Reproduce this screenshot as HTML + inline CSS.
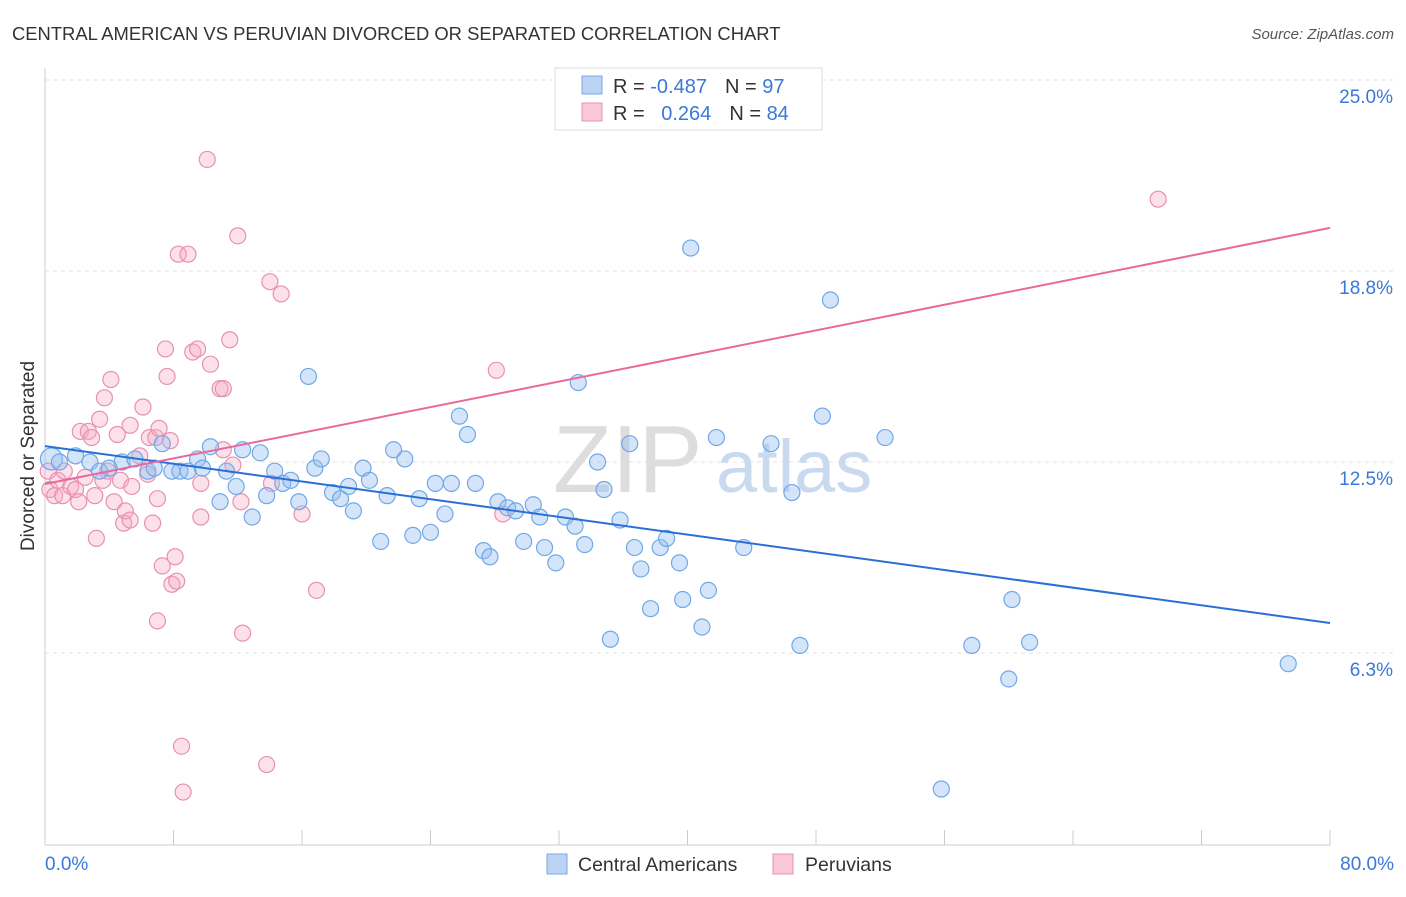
<!DOCTYPE html>
<html><head><meta charset="utf-8">
<style>
body{margin:0;background:#fff;font-family:"Liberation Sans",sans-serif;}
svg text{font-family:"Liberation Sans",sans-serif;}
</style></head>
<body>
<svg id="chart" width="1406" height="892" viewBox="0 0 1406 892" xmlns="http://www.w3.org/2000/svg">
<text x="12" y="40" font-size="18.4" fill="#333">CENTRAL AMERICAN VS PERUVIAN DIVORCED OR SEPARATED CORRELATION CHART</text>
<text x="1394" y="39" font-size="15" fill="#555" font-style="italic" text-anchor="end">Source: ZipAtlas.com</text>
<text x="34" y="456" font-size="19" fill="#333" text-anchor="middle" transform="rotate(-90 34 456)">Divorced or Separated</text>
<g id="grid"></g>
<g>
<text x="553" y="492" font-size="96" fill="#ddd" font-family="Liberation Serif">ZIP</text>
<text x="716" y="492" font-size="74" fill="#c9d9f0">atlas</text>
</g>
<line x1="45" y1="68" x2="45" y2="845" stroke="#ccc"/>
<line x1="45" y1="845" x2="1330" y2="845" stroke="#ccc"/>
<g id="xticks"></g>
<g id="yticks"></g>
<g id="pinkpts"></g>
<g id="bluepts"></g>
<g id="lines"></g>
<text x="45" y="870" font-size="19" fill="#3a78d8">0.0%</text>
<text x="1394" y="870" font-size="19" fill="#3a78d8" text-anchor="end">80.0%</text>
<g>
<rect x="555" y="68" width="267" height="62" fill="#fff" stroke="#ddd"/>
<rect x="582" y="76" width="20" height="18" fill="#bcd4f4" stroke="#7aa8e8"/>
<rect x="582" y="103" width="20" height="18" fill="#f8c8d8" stroke="#e890b0"/>
<text x="613" y="93" font-size="20" fill="#333">R = <tspan fill="#3a78d8">-0.487</tspan><tspan dx="18">N = </tspan><tspan fill="#3a78d8">97</tspan></text>
<text x="613" y="120" font-size="20" fill="#333">R = <tspan fill="#3a78d8" dx="11">0.264</tspan><tspan dx="18">N = </tspan><tspan fill="#3a78d8">84</tspan></text>
</g>
<g>
<rect x="547" y="854" width="20" height="20" fill="#bcd4f4" stroke="#7aa8e8"/>
<text x="578" y="871" font-size="19.5" fill="#333">Central Americans</text>
<rect x="773" y="854" width="20" height="20" fill="#f8c8d8" stroke="#e890b0"/>
<text x="805" y="871" font-size="19.5" fill="#333">Peruvians</text>
</g>
</svg>
<script>
const yTicks=[6.3,12.5,18.8,25.0];
const yTickValues=[6.25,12.5,18.75,25];
const xTickValues=[0,8,16,24,32,40,48,56,64,72,80];
const blueX=[0.4,0.9,1.9,2.8,3.4,4.0,4.8,5.6,6.4,6.8,7.3,7.9,8.4,8.9,9.5,9.8,10.3,10.9,11.3,11.9,12.3,12.9,13.4,13.8,14.3,14.8,15.3,15.8,16.4,16.8,17.2,17.9,18.4,18.9,19.2,19.8,20.2,20.9,21.3,21.7,22.4,22.9,23.3,24.0,24.3,24.9,25.3,25.8,26.3,26.8,27.3,27.7,28.2,28.8,29.3,29.8,30.4,30.8,31.1,31.8,32.4,33.0,33.2,33.6,34.4,34.8,35.2,35.8,36.4,36.7,37.1,37.7,38.3,38.7,39.5,39.7,40.2,40.9,41.3,41.8,43.5,45.2,46.5,47.0,48.4,48.9,52.3,55.8,57.7,60.0,60.2,61.3,77.4];
const blueY=[12.6,12.5,12.7,12.5,12.2,12.3,12.5,12.6,12.2,12.3,13.1,12.2,12.2,12.2,12.6,12.3,13.0,11.2,12.2,11.7,12.9,10.7,12.8,11.4,12.2,11.8,11.9,11.2,15.3,12.3,12.6,11.5,11.3,11.7,10.9,12.3,11.9,9.9,11.4,12.9,12.6,10.1,11.3,10.2,11.8,10.8,11.8,14.0,13.4,11.8,9.6,9.4,11.2,11.0,10.9,9.9,11.1,10.7,9.7,9.2,10.7,10.4,15.1,9.8,12.5,11.6,6.7,10.6,13.1,9.7,9.0,7.7,9.7,10.0,9.2,8.0,19.5,7.1,8.3,13.3,9.7,13.1,11.5,6.5,14.0,17.8,13.3,1.8,6.5,5.4,8.0,6.6,5.9];
const pinkX=[0.2,0.3,0.6,0.8,1.1,1.2,1.6,1.9,2.1,2.2,2.5,2.7,2.9,3.1,3.2,3.4,3.6,3.7,3.9,4.1,4.3,4.5,4.7,4.9,5.0,5.3,5.3,5.4,5.9,6.1,6.4,6.5,6.7,6.9,7.0,7.0,7.1,7.3,7.5,7.6,7.8,7.9,8.1,8.2,8.3,8.5,8.6,8.9,9.2,9.5,9.7,9.7,10.1,10.3,10.9,11.1,11.1,11.5,11.7,12.0,12.2,12.3,13.8,14.0,14.1,14.7,16.0,16.9,28.1,28.5,69.3];
const pinkY=[12.2,11.6,11.4,11.9,11.4,12.2,11.7,11.6,11.2,13.5,12.0,13.5,13.3,11.4,10.0,13.9,11.9,14.6,12.2,15.2,11.2,13.4,11.9,10.5,10.9,13.7,10.6,11.7,12.7,14.3,12.1,13.3,10.5,13.3,11.3,7.3,13.6,9.1,16.2,15.3,13.2,8.5,9.4,8.6,19.3,3.2,1.7,19.3,16.1,16.2,11.8,10.7,22.4,15.7,14.9,14.9,12.9,16.5,12.4,19.9,11.2,6.9,2.6,18.4,11.8,18.0,10.8,8.3,15.5,10.8,21.1];
const blueTrend=[13.02,7.23];
const pinkTrend=[11.78,20.16];
const trendX=[0,80];
const NS="http://www.w3.org/2000/svg";
function xs(v){return 45+v/80*1285;}
function ys(v){return 462-(v-12.5)*30.56;}
function mk(tag,attrs,parent){const e=document.createElementNS(NS,tag);for(const k in attrs)e.setAttribute(k,attrs[k]);parent.appendChild(e);return e;}
const grid=document.getElementById('grid'),yt=document.getElementById('yticks'),xt=document.getElementById('xticks');
yTickValues.forEach((v,i)=>{
 const l=mk('line',{x1:45,x2:1394,y1:ys(v),y2:ys(v),stroke:'#e3e3e3','stroke-dasharray':'4,4'},grid);
 
 
 const t=mk('text',{x:1393,y:ys(v)+23,'font-size':19,fill:'#3a78d8','text-anchor':'end'},yt);
 t.textContent=yTicks[i].toFixed(1)+'%';
 
 
});
xTickValues.forEach(v=>{
 const l=mk('line',{x1:xs(v),x2:xs(v),y1:830,y2:845,stroke:'#ccc'},xt);
 
 
});
const pp=document.getElementById('pinkpts');
pinkX.forEach((x,i)=>{
 const c=mk('circle',{cx:xs(x),cy:ys(pinkY[i]),r:8,fill:'rgba(245,170,195,0.35)',stroke:'#e890b0','stroke-width':1.2},pp);
 
 
});
const bp=document.getElementById('bluepts');
blueX.forEach((x,i)=>{
 const c=mk('circle',{cx:xs(x),cy:ys(blueY[i]),r:i==0?11:8,fill:'rgba(150,190,240,0.4)',stroke:'#6fa8e8','stroke-width':1.2},bp);
 
 
});
const lg=document.getElementById('lines');
const bl=mk('line',{x1:xs(trendX[0]),y1:ys(blueTrend[0]),x2:xs(trendX[1]),y2:ys(blueTrend[1]),stroke:'#2a6fd6','stroke-width':2},lg);


const pl=mk('line',{x1:xs(trendX[0]),y1:ys(pinkTrend[0]),x2:xs(trendX[1]),y2:ys(pinkTrend[1]),stroke:'#e8699a','stroke-width':2},lg);


</script>
</body></html>
